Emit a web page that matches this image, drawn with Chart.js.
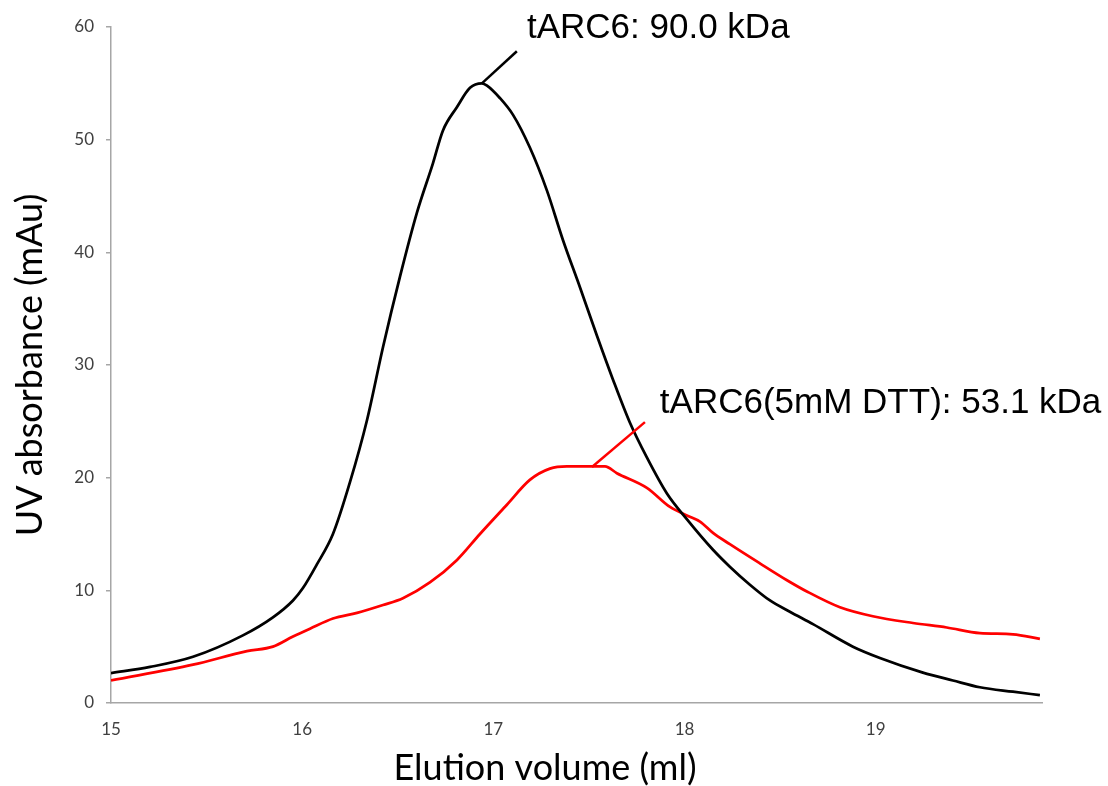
<!DOCTYPE html>
<html>
<head>
<meta charset="utf-8">
<script src="https://cdn.jsdelivr.net/npm/chart.js@4.4.1/dist/chart.umd.min.js"></script>
<style>
  html, body { margin: 0; padding: 0; background: #fff; }
  #wrap { width: 1108px; height: 786px; }
</style>
</head>
<body>
<div id="wrap"><canvas id="sec" width="1108" height="786"></canvas></div>
<script>
// axis ticks
const xTicks = [15, 16, 17, 18, 19];
const yTicks = [0, 10, 20, 30, 40, 50, 60];

// tARC6 (no DTT)
const nativeVolume = [15.000, 15.204, 15.429, 15.690, 15.847, 15.952, 16.004, 16.077, 16.161, 16.250,
    16.339, 16.423, 16.511, 16.600, 16.684, 16.736, 16.810, 16.878, 16.940, 16.967,
    17.034, 17.103, 17.191, 17.280, 17.364, 17.453, 17.542, 17.626, 17.714, 17.803,
    17.908, 18.013, 18.149, 18.237, 18.342, 18.447, 18.551, 18.672, 18.881,
    19.022, 19.247, 19.404, 19.545, 19.718, 19.859];
const nativeUV = [2.65, 3.2, 4.1, 6.0, 7.6, 9.1, 10.2, 12.3, 15.0, 19.6,
    25.1, 31.6, 37.8, 43.5, 47.9, 50.8, 52.9, 54.6, 55.0, 54.8,
    53.7, 52.2, 49.3, 45.5, 41.1, 36.9, 32.6, 28.7, 24.9, 21.8,
    18.6, 16.3, 13.6, 12.1, 10.5, 9.1, 8.1, 7.0, 5.0,
    4.0, 2.7, 2.0, 1.4, 1.0, 0.7];

// tARC6 + 5mM DTT
const dttVolume = [15.000, 15.429, 15.711, 15.847, 15.952, 16.041, 16.161, 16.287, 16.423, 16.527,
    16.668, 16.810, 16.930, 17.071, 17.191, 17.296, 17.385, 17.505, 17.584,
    17.646, 17.803, 17.924, 18.018, 18.081, 18.149, 18.237, 18.394, 18.536, 18.640,
    18.813, 18.985, 19.195, 19.372, 19.545, 19.718, 19.859];
const dttUV = [2.0, 3.4, 4.6, 5.0, 5.9, 6.6, 7.5, 8.0, 8.7, 9.3,
    10.7, 12.7, 15.0, 17.6, 19.8, 20.8, 21.0, 21.0, 21.0,
    20.4, 19.1, 17.4, 16.6, 16.1, 15.1, 14.1, 12.4, 10.9, 9.9,
    8.5, 7.7, 7.1, 6.7, 6.2, 6.1, 5.7];

// peak callouts: text, leader line start/end and text anchor, in data units
const peakText = ['tARC6: 90.0 kDa', 'tARC6(5mM DTT): 53.1 kDa'];
const peakColor = ['#000000', '#ff0000'];
const leaderFrom = [[16.940, 55.0], [17.516, 20.95]];
const leaderTo = [[17.123, 57.85], [17.793, 24.93]];
const textAt = [[17.176, 59.9], [17.871, 26.6]];

const toPoints = (xs, ys) => xs.map((v, i) => ({x: v, y: ys[i]}));

const calloutPlugin = {
    id: 'callouts',
    afterDatasetsDraw(chart) {
        const {ctx, chartArea, scales: {x, y}} = chart;
        ctx.save();
        peakText.forEach((txt, i) => {
            ctx.strokeStyle = peakColor[i];
            ctx.lineWidth = 2.5;
            ctx.beginPath();
            ctx.moveTo(x.getPixelForValue(leaderFrom[i][0]), y.getPixelForValue(leaderFrom[i][1]));
            ctx.lineTo(x.getPixelForValue(leaderTo[i][0]), y.getPixelForValue(leaderTo[i][1]));
            ctx.stroke();

            ctx.fillStyle = '#000';
            ctx.font = '35px "Liberation Sans", Arial, sans-serif';
            ctx.textAlign = 'left';
            ctx.textBaseline = 'middle';
            ctx.fillText(txt, x.getPixelForValue(textAt[i][0]), y.getPixelForValue(textAt[i][1]));
        });

        // axis titles
        ctx.fillStyle = '#000';
        ctx.font = '36px Lato, "Open Sans", sans-serif';
        ctx.textAlign = 'center';
        ctx.textBaseline = 'middle';
        ctx.fillText('Elution volume (ml)', chartArea.left + 434, chartArea.bottom + 65);
        ctx.translate(30, (chartArea.top + chartArea.bottom) / 2);
        ctx.rotate(-Math.PI / 2);
        ctx.fillText('UV absorbance (mAu)', 0, 0);
        ctx.restore();
    }
};

const ctx = document.getElementById('sec').getContext('2d');
const secChart = new Chart(ctx, {
    type: 'scatter',
    data: {
        datasets: [{
            label: 'tARC6',
            data: toPoints(nativeVolume, nativeUV),
            showLine: true,
            borderColor: '#000000',
            borderWidth: 2.75,
            pointRadius: 0,
            cubicInterpolationMode: 'monotone'
        }, {
            label: 'tARC6 (5mM DTT)',
            data: toPoints(dttVolume, dttUV),
            showLine: true,
            borderColor: '#ff0000',
            borderWidth: 2.75,
            pointRadius: 0,
            cubicInterpolationMode: 'monotone'
        }]
    },
    options: {
        responsive: false,
        animation: false,
        devicePixelRatio: 1,
        layout: {
            padding: {left: 0, top: 27, right: 66, bottom: 0}
        },
        plugins: {
            legend: {display: false},
            tooltip: {enabled: false}
        },
        scales: {
            x: {
                type: 'linear',
                min: 15,
                max: 19.87,
                afterFit: (s) => { s.height = 83; },
                afterBuildTicks: (s) => { s.ticks = xTicks.map(v => ({value: v})); },
                grid: {display: false, drawTicks: false},
                border: {color: '#a6a6a6', width: 1.5},
                ticks: {
                    padding: 16,
                    color: '#404040',
                    font: {family: 'Lato', size: 17}
                }
            },
            y: {
                min: 0,
                max: 60,
                afterFit: (s) => { s.width = 111; },
                afterBuildTicks: (s) => { s.ticks = yTicks.map(v => ({value: v})); },
                grid: {drawOnChartArea: false, tickLength: 5, color: '#a6a6a6', lineWidth: 1.5},
                border: {color: '#a6a6a6', width: 1.5},
                ticks: {
                    padding: 12,
                    color: '#404040',
                    font: {family: 'Lato', size: 17}
                }
            }
        }
    },
    plugins: [calloutPlugin]
});
</script>
</body>
</html>
